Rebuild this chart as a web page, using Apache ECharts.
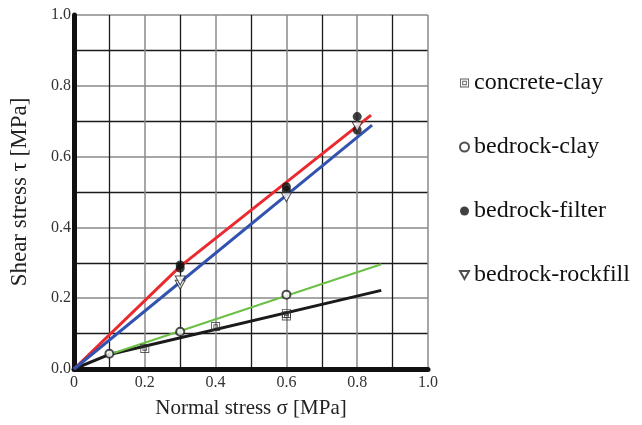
<!DOCTYPE html>
<html><head><meta charset="utf-8">
<script src="https://cdn.jsdelivr.net/npm/echarts@6/dist/echarts.min.js"></script>
<style>html,body{margin:0;padding:0;background:#fff}#c{width:642px;height:425px}</style>
</head><body><div id="c"></div>
<script>
// Measured points
const concreteClay = [[0.2, 0.058], [0.4, 0.12], [0.6, 0.15], [0.6, 0.157]];
const bedrockClay = [[0.1, 0.043], [0.3, 0.105], [0.6, 0.21]];
const bedrockFilter = [[0.3, 0.285], [0.3, 0.294], [0.6, 0.505], [0.6, 0.515], [0.8, 0.675], [0.8, 0.713]];
const bedrockRockfill = [[0.3, 0.238], [0.3, 0.25], [0.6, 0.485], [0.8, 0.685]];
// Fitted lines
const fitConcreteClay = [[0, 0], [0.1, 0.041], [0.868, 0.222]];
const fitBedrockClay = [[0.1, 0.041], [0.868, 0.296]];
const fitBedrockFilter = [[0, 0], [0.3, 0.29], [0.839, 0.717]];
const fitBedrockRockfill = [[0, 0], [0.842, 0.689]];
const seriesNames = ['concrete-clay', 'bedrock-clay', 'bedrock-filter', 'bedrock-rockfill'];

const FONT = "'Liberation Serif','Times New Roman',serif";
const sqSym = 'path://M0,0L10,0L10,10L0,10ZM1,1L1,9L9,9L9,1ZM2.5,2.5L7.5,2.5L7.5,7.5L2.5,7.5ZM3.5,3.5L3.5,6.5L6.5,6.5L6.5,3.5Z';
const triSym = 'path://M0,0L10,0L5,9Z';
const chart = echarts.init(document.getElementById('c'));
function lineSeries(data, color, width) {
  return {type: 'line', data: data, symbol: 'none', silent: true, z: 2,
    lineStyle: {color: color, width: width}};
}
chart.setOption({
  animation: false,
  grid: {left: 72, right: 214, top: 15, bottom: 56},
  legend: {
    orient: 'vertical', left: 454, top: 66, itemGap: 40, itemWidth: 9, itemHeight: 9,
    data: seriesNames,
    textStyle: {fontFamily: FONT, fontSize: 24, color: '#111'}
  },
  xAxis: {
    type: 'value', min: 0, max: 1, interval: 0.2,
    name: 'Normal stress σ [MPa]', nameLocation: 'middle', nameGap: 29,
    nameTextStyle: {fontFamily: FONT, fontSize: 21, color: '#222'},
    axisLine: {lineStyle: {color: '#111', width: 5, cap: 'round'}},
    axisTick: {show: false},
    axisLabel: {fontFamily: FONT, fontSize: 16, color: '#333', margin: 6,
      formatter: v => v === 0 ? '0' : v.toFixed(1)},
    splitLine: {lineStyle: {color: '#8a8a8a', width: 1.5}},
    minorTick: {show: false, splitNumber: 2},
    minorSplitLine: {show: true, lineStyle: {color: '#1a1a1a', width: 1.3}}
  },
  yAxis: {
    type: 'value', min: 0, max: 1, interval: 0.2,
    name: 'Shear stress τ [MPa]', nameLocation: 'middle', nameGap: 43,
    nameTextStyle: {fontFamily: FONT, fontSize: 23, color: '#222'},
    axisLine: {show: true, lineStyle: {color: '#111', width: 5, cap: 'round'}},
    axisTick: {show: false},
    axisLabel: {fontFamily: FONT, fontSize: 16, color: '#333', margin: 3,
      formatter: v => v.toFixed(1)},
    splitLine: {lineStyle: {color: '#8a8a8a', width: 1.5}},
    minorTick: {show: false, splitNumber: 2},
    minorSplitLine: {show: true, lineStyle: {color: '#1a1a1a', width: 1.3}}
  },
  series: [
    lineSeries(fitConcreteClay, '#1a1a1a', 3),
    lineSeries(fitBedrockClay, '#6cbf45', 2),
    lineSeries(fitBedrockFilter, '#ea2a2e', 3),
    lineSeries(fitBedrockRockfill, '#3252b0', 3),
    {name: seriesNames[0], type: 'scatter', data: concreteClay, symbol: sqSym, symbolSize: 9, z: 3,
      itemStyle: {color: '#333'}},
    {name: seriesNames[1], type: 'scatter', data: bedrockClay, symbol: 'emptyCircle', symbolSize: 8, z: 3,
      itemStyle: {color: '#222', borderColor: '#222', borderWidth: 1}},
    {name: seriesNames[2], type: 'scatter', data: bedrockFilter, symbol: 'circle', symbolSize: 9, z: 3,
      itemStyle: {color: '#111'}},
    {name: seriesNames[3], type: 'scatter', data: bedrockRockfill, symbol: triSym, symbolSize: [10, 9], z: 3,
      itemStyle: {color: '#fff', borderColor: '#222', borderWidth: 1}}
  ]
});
</script></body></html>
